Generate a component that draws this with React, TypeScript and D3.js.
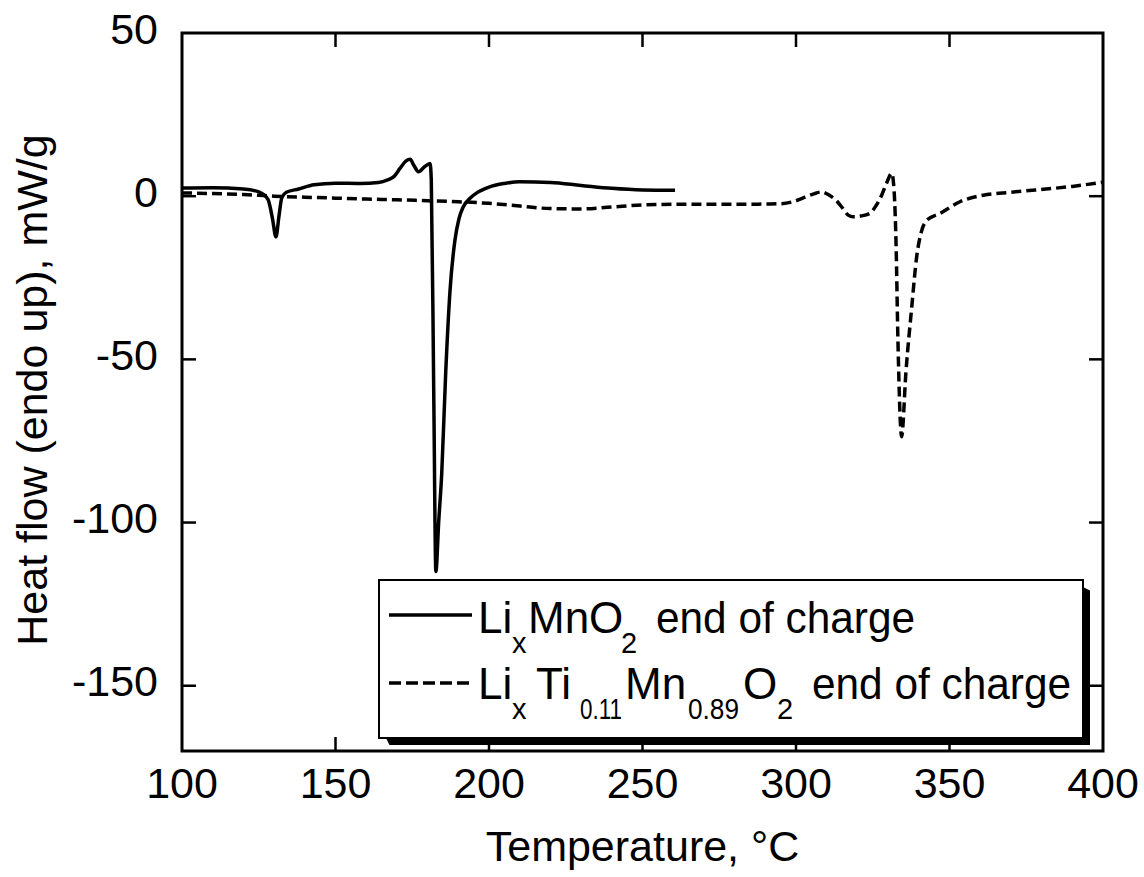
import React, { useEffect, useRef } from "react";
import * as d3 from "d3";

const solidT = [100, 110, 120, 125, 128, 129.5, 130.6, 131.6, 132.5, 134, 138, 143, 150, 158, 164, 167, 169, 171, 173, 174.3, 175.5, 177, 179, 180.8, 181.2, 182, 182.7, 183.6, 184.6, 185.9, 187.3, 188.9, 190.2, 191.6, 194, 196, 200, 205, 210, 220, 230, 240, 250, 260.6];
const solidV = [2.5, 2.6, 2.2, 1.3, -1, -7, -12.5, -6, -0.5, 1.2, 2.2, 3.5, 4, 3.9, 4.2, 5, 6, 8.5, 10.8, 11.3, 9.5, 7.5, 9, 10, 5, -60, -115, -100, -85, -54, -29, -13.5, -7, -3.3, -0.5, 1, 2.8, 3.9, 4.4, 4.2, 3.3, 2.4, 1.9, 1.8];

const dashT = [100, 110, 120, 130, 140, 150, 160, 170, 180, 190, 200, 210, 220, 230, 240, 250, 260, 270, 280, 290, 295, 299, 303, 306, 308.4, 311, 313, 315.3, 317, 318.6, 321, 324, 326, 327.9, 329.5, 331.2, 332, 332.6, 333.2, 334.4, 335.8, 337.7, 339.3, 340.8, 342.6, 346.9, 353.4, 361, 370, 377, 390, 400];
const dashV = [1.0, 0.8, 0.5, 0, -0.3, -0.6, -0.9, -1.1, -1.4, -1.7, -2.2, -3, -3.8, -3.9, -3.3, -2.7, -2.5, -2.5, -2.5, -2.4, -2.3, -1.7, -0.3, 0.8, 1.3, 0.2, -1.2, -3.8, -5.8, -6.3, -6.1, -5.3, -3, 0.3, 4, 7, 1, -15, -44, -73.7, -54, -34, -18.6, -11, -7.4, -5.3, -1.7, 0.3, 1.2, 1.8, 3, 4.3];

const xTicks = [100, 150, 200, 250, 300, 350, 400];
const yTicks = [50, 0, -50, -100, -150];

// legend entries: [text, isSubscript, x position, fitted width (0 = natural)]
const legend1: [string, boolean, number, number][] = [["Li", false, 478, 0], ["x", true, 512, 0], ["MnO", false, 528, 0], ["2", true, 621, 0], ["end of charge", false, 656, 259]];
const legend2: [string, boolean, number, number][] = [["Li", false, 478, 0], ["x", true, 512, 0], ["Ti", false, 536, 0], ["0.11", true, 580, 42], ["Mn", false, 625, 0], ["0.89", true, 688, 51], ["O", false, 743, 0], ["2", true, 777, 0], ["end of charge", false, 812, 259]];

const FONT = "'Liberation Sans', Arial, Helvetica, sans-serif";

export default function App() {
  const ref = useRef<SVGSVGElement>(null);
  useEffect(() => {
    document.body.style.margin = "0";
    const svg = d3.select(ref.current);
    svg.selectAll("*").remove();
    const L = 182, R = 1103, T = 33, B = 751;
    const x = d3.scaleLinear().domain([100, 400]).range([L, R]);
    const y = d3.scaleLinear().domain([-170, 50]).range([B, T]);

    const line = d3.line<[number, number]>().x(d => x(d[0])).y(d => y(d[1])).curve(d3.curveMonotoneX);

    const solid = solidT.map((t, i) => [t, solidV[i]] as [number, number]);
    const dashed = dashT.map((t, i) => [t, dashV[i]] as [number, number]);

    svg.append("path").attr("d", line(dashed)).attr("fill", "none").attr("stroke", "#000")
      .attr("stroke-width", 3.5).attr("stroke-dasharray", "10,5");
    svg.append("path").attr("d", line(solid)).attr("fill", "none").attr("stroke", "#000")
      .attr("stroke-width", 3.5).attr("stroke-linejoin", "round");

    // frame
    svg.append("rect").attr("x", L).attr("y", T).attr("width", R - L).attr("height", B - T)
      .attr("fill", "none").attr("stroke", "#000").attr("stroke-width", 3);

    const tl = 14;
    xTicks.forEach(t => {
      if (t !== 100 && t !== 400) {
        svg.append("line").attr("x1", x(t)).attr("x2", x(t)).attr("y1", B).attr("y2", B - tl).attr("stroke", "#000").attr("stroke-width", 2.5);
        svg.append("line").attr("x1", x(t)).attr("x2", x(t)).attr("y1", T).attr("y2", T + tl).attr("stroke", "#000").attr("stroke-width", 2.5);
      }
      svg.append("text").attr("x", x(t)).attr("y", 798).attr("text-anchor", "middle")
        .attr("font-family", FONT).attr("font-size", 43).text(String(t));
    });
    yTicks.forEach(t => {
      if (t !== 50) {
        svg.append("line").attr("x1", L).attr("x2", L + tl).attr("y1", y(t)).attr("y2", y(t)).attr("stroke", "#000").attr("stroke-width", 2.5);
        svg.append("line").attr("x1", R).attr("x2", R - tl).attr("y1", y(t)).attr("y2", y(t)).attr("stroke", "#000").attr("stroke-width", 2.5);
      }
      svg.append("text").attr("x", 158).attr("y", y(t) + 10.5).attr("text-anchor", "end")
        .attr("font-family", FONT).attr("font-size", 43).text(String(t));
    });

    svg.append("text").attr("x", (L + R) / 2).attr("y", 861).attr("text-anchor", "middle")
      .attr("font-family", FONT).attr("font-size", 43).text("Temperature, °C");
    svg.append("text").attr("transform", `translate(47, ${(T + B) / 2 - 2}) rotate(-90)`).attr("text-anchor", "middle")
      .attr("font-family", FONT).attr("font-size", 43).text("Heat flow (endo up), mW/g");

    // legend
    const lx = 379, ly = 580, lw = 704, lh = 158, sh = 7;
    svg.append("path").attr("d", `M${lx + sh},${ly + lh} L${lx + lw},${ly + lh} L${lx + lw},${ly + sh} L${lx + lw + sh},${ly + sh * 1.5} L${lx + lw + sh},${ly + lh + sh} L${lx + sh * 1.5},${ly + lh + sh} Z`).attr("fill", "#000");
    svg.append("rect").attr("x", lx).attr("y", ly).attr("width", lw).attr("height", lh)
      .attr("fill", "#fff").attr("stroke", "#000").attr("stroke-width", 2);

    svg.append("line").attr("x1", 389).attr("x2", 472).attr("y1", 615).attr("y2", 615).attr("stroke", "#000").attr("stroke-width", 3.5);
    svg.append("line").attr("x1", 389).attr("x2", 472).attr("y1", 683).attr("y2", 683).attr("stroke", "#000").attr("stroke-width", 3.5).attr("stroke-dasharray", "12,5");

    const addRich = (yb: number, parts: [string, boolean, number, number][]) => {
      parts.forEach(([s, sub, px, w]) => {
        const t = svg.append("text").attr("x", px).attr("y", sub ? yb + 19.5 : yb)
          .attr("font-family", FONT).attr("font-size", sub ? 29 : 44).text(s);
        if (w > 0) t.attr("textLength", w).attr("lengthAdjust", "spacingAndGlyphs");
      });
    };
    addRich(633, legend1);
    addRich(699, legend2);
  }, []);
  return <svg ref={ref} width={1144} height={877} style={{ position: "absolute", left: 0, top: 0, background: "#fff" }} />;
}
